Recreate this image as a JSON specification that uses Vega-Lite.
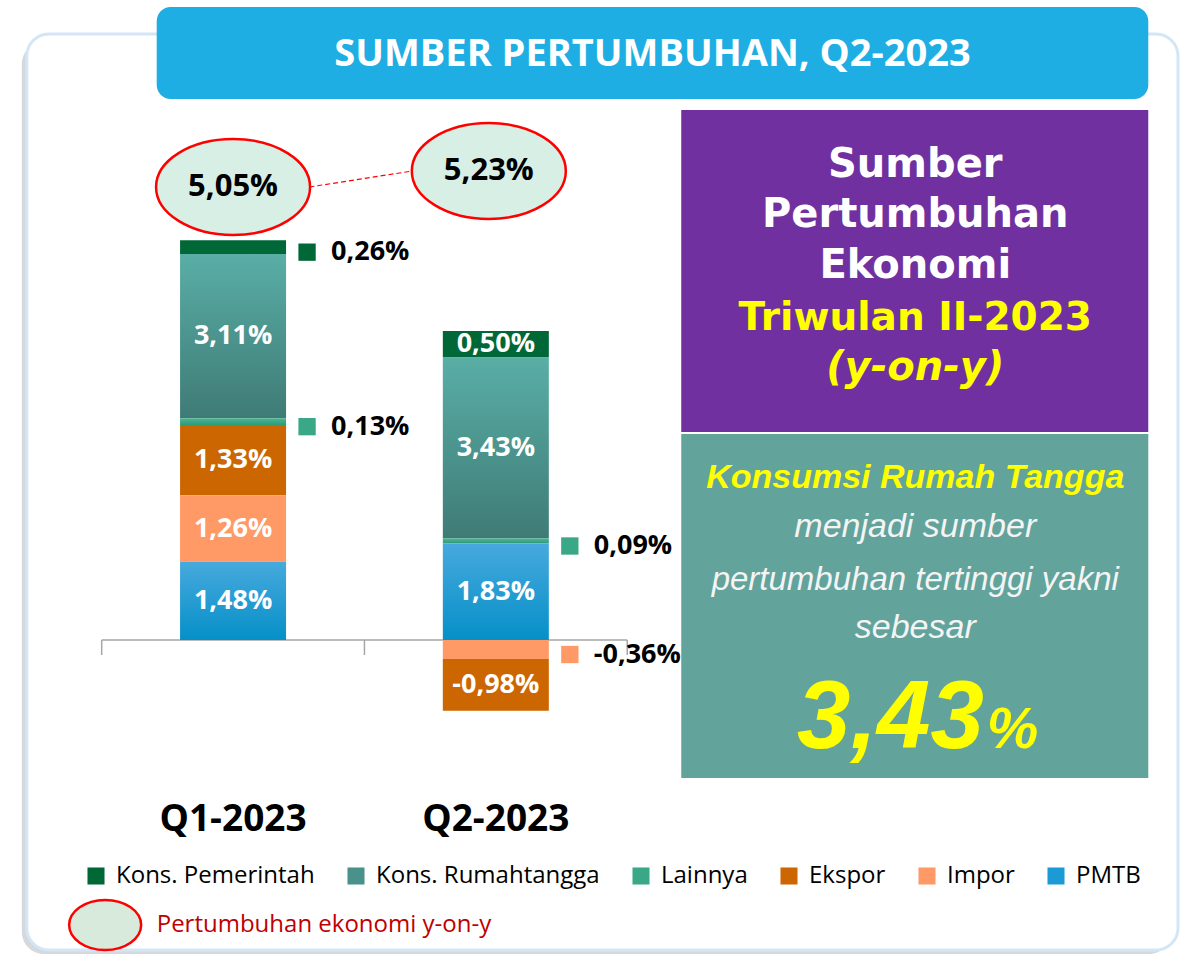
{
  "$schema": "https://vega.github.io/schema/vega-lite/v6.json",
  "width": 1186,
  "height": 955,
  "autosize": {"type": "fit", "contains": "padding"},
  "padding": 0,
  "background": "#ffffff",
  "config": {
    "view": {"stroke": null},
    "axis": {"disable": true}
  },
  "datasets": {
    "kontribusi": [
      {"kuartal": "Q1-2023", "idx": 1, "komponen": "Kons. Pemerintah", "urutan": 6, "nilai": 0.26, "label": "0,26%"},
      {"kuartal": "Q1-2023", "idx": 1, "komponen": "Kons. Rumahtangga", "urutan": 5, "nilai": 3.11, "label": "3,11%"},
      {"kuartal": "Q1-2023", "idx": 1, "komponen": "Lainnya", "urutan": 4, "nilai": 0.13, "label": "0,13%"},
      {"kuartal": "Q1-2023", "idx": 1, "komponen": "Ekspor", "urutan": 3, "nilai": 1.33, "label": "1,33%"},
      {"kuartal": "Q1-2023", "idx": 1, "komponen": "Impor", "urutan": 2, "nilai": 1.26, "label": "1,26%"},
      {"kuartal": "Q1-2023", "idx": 1, "komponen": "PMTB", "urutan": 1, "nilai": 1.48, "label": "1,48%"},
      {"kuartal": "Q2-2023", "idx": 2, "komponen": "Kons. Pemerintah", "urutan": 6, "nilai": 0.50, "label": "0,50%"},
      {"kuartal": "Q2-2023", "idx": 2, "komponen": "Kons. Rumahtangga", "urutan": 5, "nilai": 3.43, "label": "3,43%"},
      {"kuartal": "Q2-2023", "idx": 2, "komponen": "Lainnya", "urutan": 4, "nilai": 0.09, "label": "0,09%"},
      {"kuartal": "Q2-2023", "idx": 2, "komponen": "Ekspor", "urutan": 3, "nilai": -0.98, "label": "-0,98%"},
      {"kuartal": "Q2-2023", "idx": 2, "komponen": "Impor", "urutan": 2, "nilai": -0.36, "label": "-0,36%"},
      {"kuartal": "Q2-2023", "idx": 2, "komponen": "PMTB", "urutan": 1, "nilai": 1.83, "label": "1,83%"}
    ],
    "pertumbuhan": [
      {"kuartal": "Q1-2023", "idx": 1, "nilai": 5.05, "label": "5,05%"},
      {"kuartal": "Q2-2023", "idx": 2, "nilai": 5.23, "label": "5,23%"}
    ]
  },
  "layer": [
    {
      "data": {"values": [{}]},
      "mark": {"type": "rect", "fill": "#c3c8ce", "cornerRadius": 22, "opacity": 0.7},
      "encoding": {
        "x": {"datum": 0.196226, "type": "quantitative"},
        "x2": {"datum": 4.569811},
        "y": {"datum": 11.325758, "type": "quantitative"},
        "y2": {"datum": -5.94697}
      }
    },
    {
      "data": {"values": [{}]},
      "mark": {"type": "rect", "fill": "#ffffff", "stroke": "#d3e6f6", "strokeWidth": 3, "cornerRadius": 22},
      "encoding": {
        "x": {"datum": 0.215094, "type": "quantitative", "scale": {"domain": [0.132075, 4.607547], "nice": false, "zero": false}},
        "x2": {"datum": 4.596226},
        "y": {"datum": 11.477273, "type": "quantitative", "scale": {"domain": [-5.965909, 12.121212], "nice": false, "zero": false}},
        "y2": {"datum": -5.871212}
      }
    },
    {
      "data": {"values": [{}]},
      "mark": {"type": "rect", "fill": "#1eaee3", "cornerRadius": 14},
      "encoding": {
        "x": {"datum": 0.709434, "type": "quantitative"},
        "x2": {"datum": 4.483019},
        "y": {"datum": 11.988636, "type": "quantitative"},
        "y2": {"datum": 10.246212}
      }
    },
    {
      "data": {"values": [{}]},
      "mark": {"type": "text", "text": "SUMBER PERTUMBUHAN, Q2-2023", "font": "Open Sans", "fontWeight": "bold", "fontSize": 38, "color": "#ffffff", "align": "center", "baseline": "middle"},
      "encoding": {
        "x": {"datum": 2.596226, "type": "quantitative"},
        "y": {"datum": 11.079545, "type": "quantitative"}
      }
    },
    {
      "data": {"values": [{}]},
      "mark": {"type": "rect", "fill": "#7030a0"},
      "encoding": {
        "x": {"datum": 2.70566, "type": "quantitative"},
        "x2": {"datum": 4.483019},
        "y": {"datum": 10.037879, "type": "quantitative"},
        "y2": {"datum": 3.939394}
      }
    },
    {
      "data": {"values": [{}]},
      "mark": {"type": "rect", "fill": "#62a39c"},
      "encoding": {
        "x": {"datum": 2.70566, "type": "quantitative"},
        "x2": {"datum": 4.483019},
        "y": {"datum": 3.901515, "type": "quantitative"},
        "y2": {"datum": -2.613636}
      }
    },
    {
      "data": {"values": [{}]},
      "mark": {"type": "text", "text": "Sumber", "font": "DejaVu Sans", "fontWeight": "bold", "fontSize": 40, "color": "#ffffff", "align": "center", "baseline": "middle"},
      "encoding": {"x": {"datum": 3.596226, "type": "quantitative"}, "y": {"datum": 8.996212, "type": "quantitative"}}
    },
    {
      "data": {"values": [{}]},
      "mark": {"type": "text", "text": "Pertumbuhan", "font": "DejaVu Sans", "fontWeight": "bold", "fontSize": 40, "color": "#ffffff", "align": "center", "baseline": "middle"},
      "encoding": {"x": {"datum": 3.596226, "type": "quantitative"}, "y": {"datum": 8.049242, "type": "quantitative"}}
    },
    {
      "data": {"values": [{}]},
      "mark": {"type": "text", "text": "Ekonomi", "font": "DejaVu Sans", "fontWeight": "bold", "fontSize": 40, "color": "#ffffff", "align": "center", "baseline": "middle"},
      "encoding": {"x": {"datum": 3.596226, "type": "quantitative"}, "y": {"datum": 7.083333, "type": "quantitative"}}
    },
    {
      "data": {"values": [{}]},
      "mark": {"type": "text", "text": "Triwulan II-2023", "font": "DejaVu Sans", "fontWeight": "bold", "fontSize": 39, "color": "#ffff00", "align": "center", "baseline": "middle"},
      "encoding": {"x": {"datum": 3.596226, "type": "quantitative"}, "y": {"datum": 6.098485, "type": "quantitative"}}
    },
    {
      "data": {"values": [{}]},
      "mark": {"type": "text", "text": "(y-on-y)", "font": "DejaVu Sans", "fontWeight": "bold", "fontStyle": "italic", "fontSize": 40, "color": "#ffff00", "align": "center", "baseline": "middle"},
      "encoding": {"x": {"datum": 3.596226, "type": "quantitative"}, "y": {"datum": 5.151515, "type": "quantitative"}}
    },
    {
      "data": {"values": [{}]},
      "mark": {"type": "text", "text": "Konsumsi Rumah Tangga", "font": "Liberation Sans", "fontWeight": "bold", "fontStyle": "italic", "fontSize": 34, "color": "#ffff00", "align": "center", "baseline": "middle"},
      "encoding": {"x": {"datum": 3.596226, "type": "quantitative"}, "y": {"datum": 3.068182, "type": "quantitative"}}
    },
    {
      "data": {"values": [{}]},
      "mark": {"type": "text", "text": "menjadi sumber", "font": "Liberation Sans", "fontStyle": "italic", "fontSize": 34, "color": "#f4f4f4", "align": "center", "baseline": "middle"},
      "encoding": {"x": {"datum": 3.596226, "type": "quantitative"}, "y": {"datum": 2.140152, "type": "quantitative"}}
    },
    {
      "data": {"values": [{}]},
      "mark": {"type": "text", "text": "pertumbuhan tertinggi yakni", "font": "Liberation Sans", "fontStyle": "italic", "fontSize": 33, "color": "#f4f4f4", "align": "center", "baseline": "middle"},
      "encoding": {"x": {"datum": 3.596226, "type": "quantitative"}, "y": {"datum": 1.136364, "type": "quantitative"}}
    },
    {
      "data": {"values": [{}]},
      "mark": {"type": "text", "text": "sebesar", "font": "Liberation Sans", "fontStyle": "italic", "fontSize": 34, "color": "#f4f4f4", "align": "center", "baseline": "middle"},
      "encoding": {"x": {"datum": 3.596226, "type": "quantitative"}, "y": {"datum": 0.227273, "type": "quantitative"}}
    },
    {
      "data": {"values": [{}]},
      "mark": {"type": "text", "text": "3,43", "font": "Liberation Sans", "fontWeight": "bold", "fontStyle": "italic", "fontSize": 96, "color": "#ffff00", "align": "center", "baseline": "alphabetic"},
      "encoding": {"x": {"datum": 3.501887, "type": "quantitative"}, "y": {"datum": -2.045455, "type": "quantitative"}}
    },
    {
      "data": {"values": [{}]},
      "mark": {"type": "text", "text": "%", "font": "Liberation Sans", "fontWeight": "bold", "fontStyle": "italic", "fontSize": 58, "color": "#ffff00", "align": "left", "baseline": "alphabetic"},
      "encoding": {"x": {"datum": 3.867925, "type": "quantitative"}, "y": {"datum": -2.045455, "type": "quantitative"}}
    },
    {
      "data": {"values": [{}]},
      "mark": {"type": "rule", "color": "#a6a6a6", "strokeWidth": 1.5},
      "encoding": {"x": {"datum": 0.5, "type": "quantitative"}, "x2": {"datum": 2.5}, "y": {"datum": 0, "type": "quantitative"}}
    },
    {
      "data": {"values": [{}]},
      "mark": {"type": "rule", "color": "#a6a6a6", "strokeWidth": 1.5},
      "encoding": {"x": {"datum": 0.5, "type": "quantitative"}, "y": {"datum": 0, "type": "quantitative"}, "y2": {"datum": -0.284091}}
    },
    {
      "data": {"values": [{}]},
      "mark": {"type": "rule", "color": "#a6a6a6", "strokeWidth": 1.5},
      "encoding": {"x": {"datum": 1.5, "type": "quantitative"}, "y": {"datum": 0, "type": "quantitative"}, "y2": {"datum": -0.284091}}
    },
    {
      "data": {"values": [{}]},
      "mark": {"type": "rule", "color": "#a6a6a6", "strokeWidth": 1.5},
      "encoding": {"x": {"datum": 2.5, "type": "quantitative"}, "y": {"datum": 0, "type": "quantitative"}, "y2": {"datum": -0.284091}}
    },
    {
      "data": {"name": "kontribusi"},
      "mark": {"type": "bar", "size": 106, "orient": "vertical"},
      "encoding": {
        "x": {"field": "idx", "type": "quantitative"},
        "y": {"field": "nilai", "type": "quantitative", "stack": "zero"},
        "order": {"field": "urutan", "type": "quantitative"},
        "color": {
          "field": "komponen",
          "type": "nominal",
          "scale": {
            "domain": ["Kons. Pemerintah", "Kons. Rumahtangga", "Lainnya", "Ekspor", "Impor", "PMTB"],
            "range": ["#006837", "#4a918b", "#3aa886", "#cc6600", "#ff9966", "#1b9ad6"]
          },
          "legend": {
            "title": null,
            "orient": "none",
            "legendX": 84,
            "legendY": 864,
            "direction": "horizontal",
            "columns": 6,
            "symbolType": "square",
            "symbolSize": 290,
            "symbolStrokeWidth": 0,
            "labelFont": "Open Sans",
            "labelFontSize": 24,
            "labelColor": "#000000",
            "labelOffset": 8,
            "columnPadding": 29,
            "padding": 0,
            "labelLimit": 400
          },
          "condition": [
            {"test": "datum.komponen === 'Kons. Rumahtangga'", "value": {"gradient": "linear", "x1": 0, "y1": 0, "x2": 0, "y2": 1, "stops": [{"offset": 0, "color": "#59aea6"}, {"offset": 1, "color": "#3f7b76"}]}},
            {"test": "datum.komponen === 'PMTB'", "value": {"gradient": "linear", "x1": 0, "y1": 0, "x2": 0, "y2": 1, "stops": [{"offset": 0, "color": "#47a9dd"}, {"offset": 1, "color": "#0590c8"}]}},
            {"test": "datum.komponen === 'Lainnya'", "value": {"gradient": "linear", "x1": 0, "y1": 0, "x2": 0, "y2": 1, "stops": [{"offset": 0, "color": "#4db594"}, {"offset": 1, "color": "#2e9b79"}]}}
          ]
        }
      }
    },
    {
      "data": {"name": "kontribusi"},
      "mark": {"type": "text", "font": "Open Sans", "fontWeight": "bold", "fontSize": 27, "color": "#ffffff", "align": "center", "baseline": "middle"},
      "encoding": {
        "x": {"field": "idx", "type": "quantitative"},
        "y": {"field": "nilai", "type": "quantitative", "stack": "zero", "bandPosition": 0.5},
        "order": {"field": "urutan", "type": "quantitative"},
        "detail": {"field": "komponen", "type": "nominal"},
        "text": {"field": "label", "type": "nominal", "condition": {"test": "abs(datum.nilai) < 0.4", "value": ""}}
      }
    },
    {
      "data": {"name": "kontribusi"},
      "mark": {"type": "square", "size": 300, "filled": true, "xOffset": 74, "yOffset": 5},
      "encoding": {
        "x": {"field": "idx", "type": "quantitative"},
        "y": {"field": "nilai", "type": "quantitative", "stack": "zero", "bandPosition": 0.5},
        "order": {"field": "urutan", "type": "quantitative"},
        "color": {"field": "komponen", "type": "nominal"},
        "opacity": {"condition": {"test": "abs(datum.nilai) < 0.4", "value": 1}, "value": 0}
      }
    },
    {
      "data": {"name": "kontribusi"},
      "mark": {"type": "text", "font": "Open Sans", "fontWeight": "bold", "fontSize": 27, "color": "#000000", "align": "left", "baseline": "middle", "xOffset": 98, "yOffset": 5},
      "encoding": {
        "x": {"field": "idx", "type": "quantitative"},
        "y": {"field": "nilai", "type": "quantitative", "stack": "zero", "bandPosition": 0.5},
        "order": {"field": "urutan", "type": "quantitative"},
        "detail": {"field": "komponen", "type": "nominal"},
        "text": {"field": "label", "type": "nominal", "condition": {"test": "abs(datum.nilai) >= 0.4", "value": ""}}
      }
    },
    {
      "data": {"values": [{}]},
      "mark": {"type": "rule", "color": "#ff0000", "strokeWidth": 1.2, "strokeDash": [5, 3]},
      "encoding": {
        "x": {"datum": 1.290566, "type": "quantitative"},
        "y": {"datum": 8.579545, "type": "quantitative"},
        "x2": {"datum": 1.683019},
        "y2": {"datum": 8.882576}
      }
    },
    {
      "data": {"name": "pertumbuhan"},
      "transform": [{"filter": "datum.kuartal === 'Q1-2023'"}],
      "mark": {"type": "point", "shape": "M-1,0C-1,-0.344,-0.5523,-0.623,0,-0.623C0.5523,-0.623,1,-0.344,1,0C1,0.344,0.5523,0.623,0,0.623C-0.5523,0.623,-1,0.344,-1,0Z", "size": 23716, "filled": true, "fill": "#d8efe5", "stroke": "#ff0000", "strokeWidth": 2.5, "opacity": 1},
      "encoding": {"x": {"field": "idx", "type": "quantitative"}, "y": {"datum": 8.579545, "type": "quantitative"}}
    },
    {
      "data": {"name": "pertumbuhan"},
      "transform": [{"filter": "datum.kuartal === 'Q2-2023'"}],
      "mark": {"type": "point", "shape": "M-1,0C-1,-0.344,-0.5523,-0.623,0,-0.623C0.5523,-0.623,1,-0.344,1,0C1,0.344,0.5523,0.623,0,0.623C-0.5523,0.623,-1,0.344,-1,0Z", "size": 23716, "filled": true, "fill": "#d8efe5", "stroke": "#ff0000", "strokeWidth": 2.5, "opacity": 1, "xOffset": -7},
      "encoding": {"x": {"field": "idx", "type": "quantitative"}, "y": {"datum": 8.882576, "type": "quantitative"}}
    },
    {
      "data": {"name": "pertumbuhan"},
      "transform": [{"filter": "datum.kuartal === 'Q1-2023'"}],
      "mark": {"type": "text", "font": "Open Sans", "fontWeight": "bold", "fontSize": 31, "color": "#000000", "align": "center", "baseline": "middle"},
      "encoding": {"x": {"field": "idx", "type": "quantitative"}, "y": {"datum": 8.579545, "type": "quantitative"}, "text": {"field": "label", "type": "nominal"}}
    },
    {
      "data": {"name": "pertumbuhan"},
      "transform": [{"filter": "datum.kuartal === 'Q2-2023'"}],
      "mark": {"type": "text", "font": "Open Sans", "fontWeight": "bold", "fontSize": 31, "color": "#000000", "align": "center", "baseline": "middle", "xOffset": -7},
      "encoding": {"x": {"field": "idx", "type": "quantitative"}, "y": {"datum": 8.882576, "type": "quantitative"}, "text": {"field": "label", "type": "nominal"}}
    },
    {
      "data": {"name": "pertumbuhan"},
      "mark": {"type": "text", "font": "Open Sans", "fontWeight": "bold", "fontSize": 37, "color": "#000000", "align": "center", "baseline": "middle"},
      "encoding": {"x": {"field": "idx", "type": "quantitative"}, "y": {"datum": -3.409091, "type": "quantitative"}, "text": {"field": "kuartal", "type": "nominal"}}
    },
    {
      "data": {"values": [{}]},
      "mark": {"type": "point", "shape": "M-1,0C-1,-0.383,-0.5523,-0.694,0,-0.694C0.5523,-0.694,1,-0.383,1,0C1,0.383,0.5523,0.694,0,0.694C-0.5523,0.694,-1,0.383,-1,0Z", "size": 5184, "filled": true, "fill": "#d8eadb", "stroke": "#ff0000", "strokeWidth": 2.5, "opacity": 1},
      "encoding": {"x": {"datum": 0.513208, "type": "quantitative"}, "y": {"datum": -5.397727, "type": "quantitative"}}
    },
    {
      "data": {"values": [{}]},
      "mark": {"type": "text", "text": "Pertumbuhan ekonomi y-on-y", "font": "Open Sans", "fontSize": 24, "color": "#c00000", "align": "left", "baseline": "middle"},
      "encoding": {"x": {"datum": 0.709434, "type": "quantitative"}, "y": {"datum": -5.397727, "type": "quantitative"}}
    }
  ]
}
